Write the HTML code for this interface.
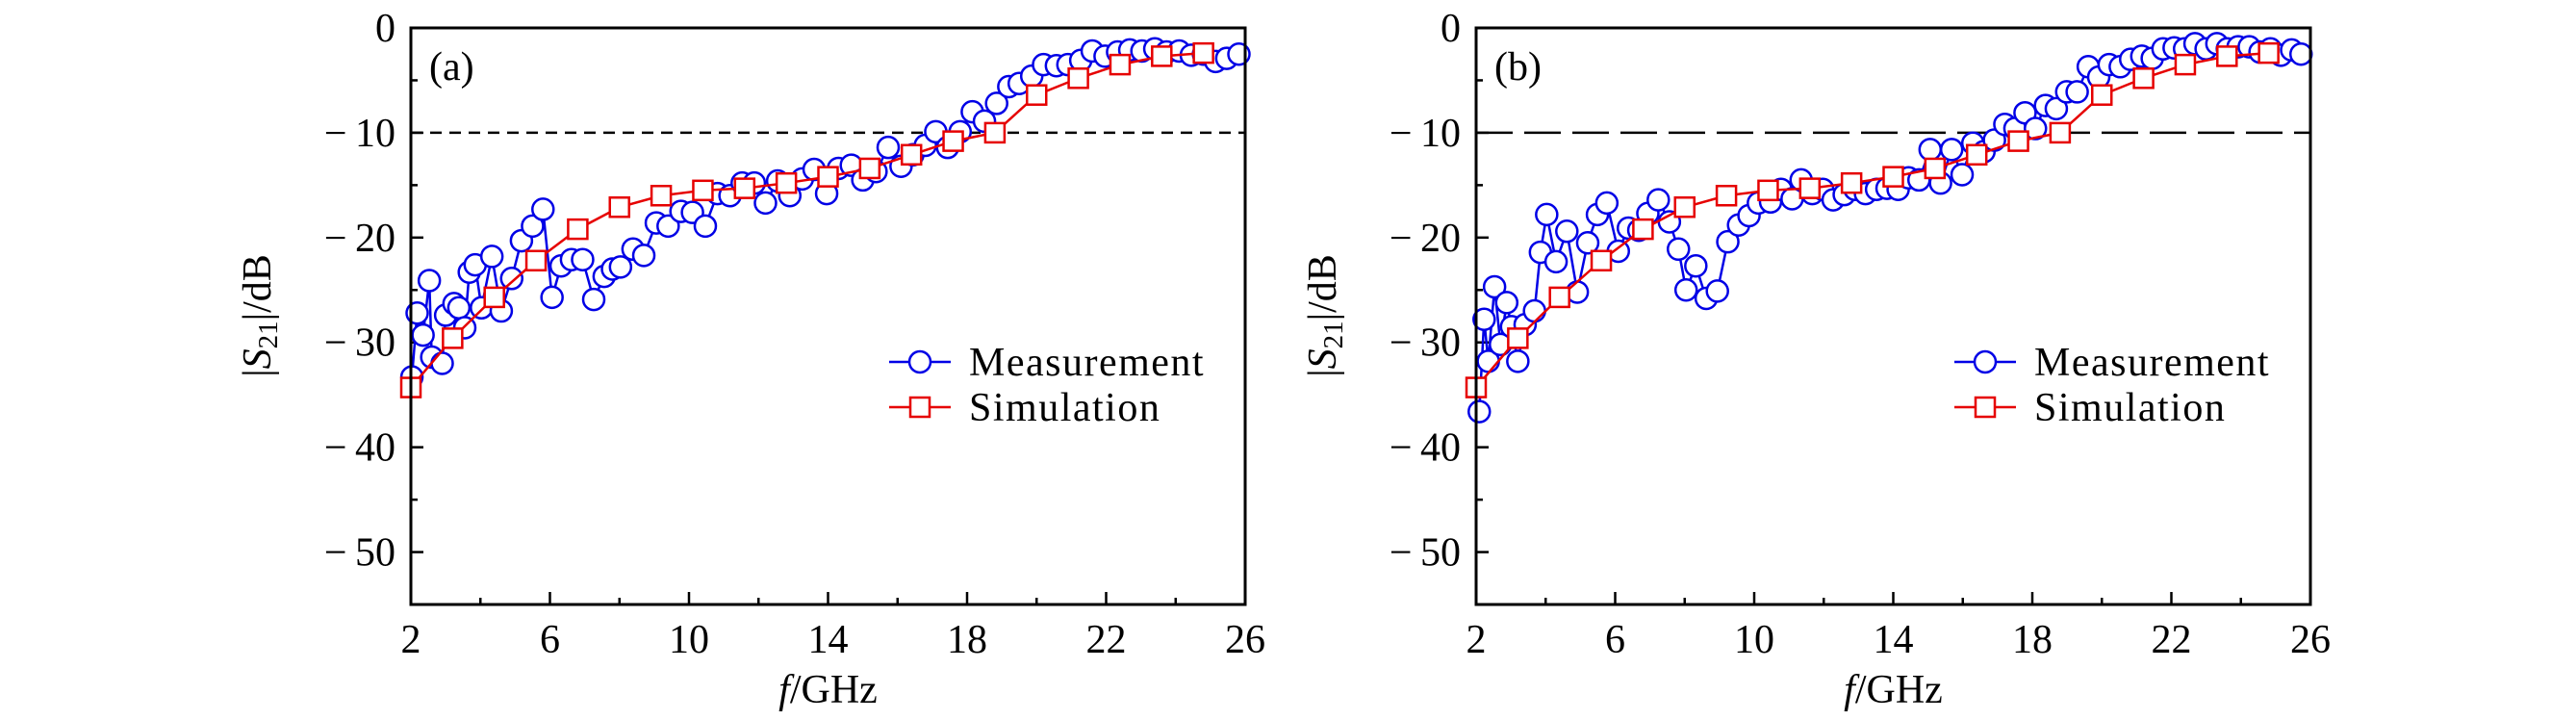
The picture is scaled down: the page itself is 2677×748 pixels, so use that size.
<!DOCTYPE html>
<html><head><meta charset="utf-8"><style>
html,body{margin:0;padding:0;background:#fff;}
svg{display:block;font-family:"Liberation Serif",serif;}
</style></head><body>
<svg id="chart" width="2677" height="748" viewBox="0 0 2677 748" xmlns="http://www.w3.org/2000/svg"></svg>
<script>
const simFreq=[2.0,3.2,4.4,5.6,6.8,8.0,9.2,10.4,11.6,12.8,14.0,15.2,16.4,17.6,18.8,20.0,21.2,22.4,23.6,24.8];
const simDb=[-34.3,-29.6,-25.7,-22.2,-19.2,-17.1,-16.0,-15.5,-15.3,-14.8,-14.2,-13.4,-12.1,-10.8,-10.0,-6.4,-4.8,-3.5,-2.7,-2.4];
const measAFreq=[2.03,2.18,2.35,2.53,2.6,2.9,3.0,3.24,3.38,3.55,3.68,3.85,4.03,4.33,4.6,4.9,5.18,5.5,5.8,6.06,6.32,6.62,6.94,7.26,7.56,7.8,8.03,8.39,8.7,9.06,9.4,9.77,10.1,10.47,10.82,11.18,11.53,11.88,12.2,12.55,12.9,13.26,13.6,13.96,14.3,14.67,15.0,15.38,15.73,16.1,16.44,16.8,17.1,17.44,17.8,18.15,18.5,18.85,19.2,19.5,19.86,20.2,20.57,20.9,21.27,21.6,21.97,22.33,22.68,23.03,23.4,23.74,24.1,24.45,24.8,25.15,25.47,25.82];
const measADb=[-33.3,-27.2,-29.3,-24.1,-31.4,-32.0,-27.4,-26.3,-26.7,-28.6,-23.3,-22.6,-26.7,-21.8,-27.0,-23.9,-20.3,-18.9,-17.3,-25.7,-22.7,-22.1,-22.1,-25.9,-23.7,-23.0,-22.8,-21.1,-21.7,-18.6,-18.9,-17.5,-17.6,-18.9,-15.8,-16.0,-14.8,-14.8,-16.7,-14.6,-16.0,-14.4,-13.5,-15.8,-13.4,-13.1,-14.5,-13.7,-11.4,-13.2,-12.1,-11.2,-9.9,-11.4,-9.9,-8.0,-8.9,-7.2,-5.6,-5.3,-4.6,-3.5,-3.6,-3.5,-3.1,-2.2,-2.7,-2.3,-2.1,-2.2,-2.0,-2.3,-2.2,-2.6,-2.5,-3.2,-2.9,-2.5];
const measBFreq=[2.09,2.23,2.35,2.53,2.7,2.88,3.02,3.2,3.41,3.68,3.85,4.03,4.3,4.61,4.91,5.21,5.49,5.76,6.09,6.38,6.68,6.94,7.24,7.56,7.82,8.04,8.32,8.62,8.94,9.24,9.55,9.85,10.12,10.47,10.77,11.09,11.35,11.67,11.97,12.27,12.59,12.9,13.2,13.52,13.82,14.14,14.44,14.74,15.06,15.36,15.68,15.98,16.29,16.61,16.91,17.21,17.5,17.79,18.09,18.38,18.69,18.99,19.29,19.61,19.91,20.21,20.53,20.83,21.15,21.45,21.76,22.08,22.38,22.68,23.0,23.31,23.61,23.92,24.24,24.55,24.85,25.15,25.46,25.73];
const measBDb=[-36.6,-27.8,-31.8,-24.7,-30.2,-26.2,-28.5,-31.8,-28.3,-27.0,-21.4,-17.8,-22.3,-19.4,-25.2,-20.5,-17.8,-16.7,-21.3,-19.1,-19.3,-17.7,-16.4,-18.5,-21.1,-25.0,-22.7,-25.8,-25.1,-20.4,-18.8,-17.9,-16.7,-16.6,-15.4,-16.3,-14.5,-15.8,-15.4,-16.4,-15.9,-15.4,-15.8,-15.4,-15.3,-15.4,-14.3,-14.5,-11.6,-14.8,-11.6,-14.0,-11.0,-11.8,-10.7,-9.2,-9.6,-8.1,-9.6,-7.4,-7.7,-6.1,-6.1,-3.7,-4.7,-3.5,-3.7,-3.0,-2.7,-2.9,-2.0,-1.9,-2.0,-1.5,-2.0,-1.5,-2.0,-1.8,-1.8,-2.3,-2.0,-2.6,-2.1,-2.5];
const xTickLabels=[2,6,10,14,18,22,26];
const yTickLabels=[0,-10,-20,-30,-40,-50];
const threshold=-10;

const NS="http://www.w3.org/2000/svg";
const svg=document.getElementById('chart');
const FS=42;
function mk(tag,attrs,parent){const e=document.createElementNS(NS,tag);for(const k in attrs)e.setAttribute(k,attrs[k]);(parent||svg).appendChild(e);return e;}

function panel(px,label,mF,mD,dash,id){
  const L=px,R=px+867,T=29,B=628;
  const xs=f=>L+(f-2)/24*(R-L);
  const ys=d=>T+(0-d)/55*(B-T);
  const g=mk('g',{});
  
  
  for(let f=2;f<=26;f+=2){
    const maj=(f-2)%4===0; const len=maj?13:7;
    const t=mk('line',{x1:xs(f),x2:xs(f),y1:B,y2:B-len,stroke:'#000','stroke-width':2.5},g);
    
    
  }
  for(let d=0;d>=-55;d-=5){
    const maj=d%10===0; const len=maj?13:7;
    const t=mk('line',{x1:L,x2:L+len,y1:ys(d),y2:ys(d),stroke:'#000','stroke-width':2.5},g);
    
    
  }
  xTickLabels.forEach(v=>{
    const t=mk('text',{x:xs(v),y:678,'font-size':FS,'text-anchor':'middle'},g);
    t.textContent=v;
    
    
  });
  yTickLabels.forEach(v=>{
    const t=mk('text',{x:L-16,y:ys(v)+14,'font-size':FS,'text-anchor':'end'},g);
    t.textContent=v===0?'0':'\u2212\u2009'+Math.abs(v);
    
    
  });
  const th=mk('line',{x1:L,x2:R,y1:ys(threshold),y2:ys(threshold),stroke:'#000','stroke-width':2.5,'stroke-dasharray':dash},g);
  
  
  const mp=mk('polyline',{points:mF.map((f,i)=>xs(f)+','+ys(mD[i])).join(' '),fill:'none',stroke:'#0000e6','stroke-width':2.5},g);
  
  
  mF.forEach((f,i)=>{
    const c=mk('circle',{cx:xs(f),cy:ys(mD[i]),r:11,fill:'#fff',stroke:'#0000e6','stroke-width':2.5},g);
    
    
  });
  const sp=mk('polyline',{points:simFreq.map((f,i)=>xs(f)+','+ys(simDb[i])).join(' '),fill:'none',stroke:'#e60000','stroke-width':2.5},g);
  
  
  simFreq.forEach((f,i)=>{
    const s=mk('rect',{x:xs(f)-10,y:ys(simDb[i])-10,width:20,height:20,fill:'#fff',stroke:'#e60000','stroke-width':2.5},g);
    
    
  });
  const fr=mk('rect',{x:L,y:T,width:R-L,height:B-T,fill:'none',stroke:'#000','stroke-width':3},g);
  
  
  const pl=mk('text',{x:L+19,y:83,'font-size':FS},g);
  pl.textContent=label;
  
  
  const lg=mk('g',{},g);
  
  
  const lx=L+529;
  mk('line',{x1:lx-32,x2:lx+32,y1:376,y2:376,stroke:'#0000e6','stroke-width':2.5},lg);
  mk('circle',{cx:lx,cy:376,r:11,fill:'#fff',stroke:'#0000e6','stroke-width':2.5},lg);
  const t1=mk('text',{x:lx+51,y:390,'font-size':FS,'letter-spacing':1.5},lg);
  t1.textContent='Measurement';
  
  
  mk('line',{x1:lx-32,x2:lx+32,y1:423,y2:423,stroke:'#e60000','stroke-width':2.5},lg);
  mk('rect',{x:lx-10,y:413,width:20,height:20,fill:'#fff',stroke:'#e60000','stroke-width':2.5},lg);
  const t2=mk('text',{x:lx+51,y:437,'font-size':FS,'letter-spacing':1.5},lg);
  t2.textContent='Simulation';
  
  
  const xt=mk('text',{x:(L+R)/2,y:730,'font-size':FS,'text-anchor':'middle'},g);
  xt.innerHTML='<tspan font-style="italic">f</tspan>/GHz';
  
  
  const yt=mk('text',{x:0,y:0,'font-size':FS,'text-anchor':'middle',transform:'translate('+(L-146)+',328) rotate(-90)'},g);
  yt.innerHTML='|<tspan font-style="italic">S</tspan><tspan font-size="29" dy="7">21</tspan><tspan dy="-7">|/dB</tspan>';
  
  
}
panel(427,'(a)',measAFreq,measADb,'12,8','a');
panel(1534,'(b)',measBFreq,measBDb,'38,12','b');
</script>
</body></html>
